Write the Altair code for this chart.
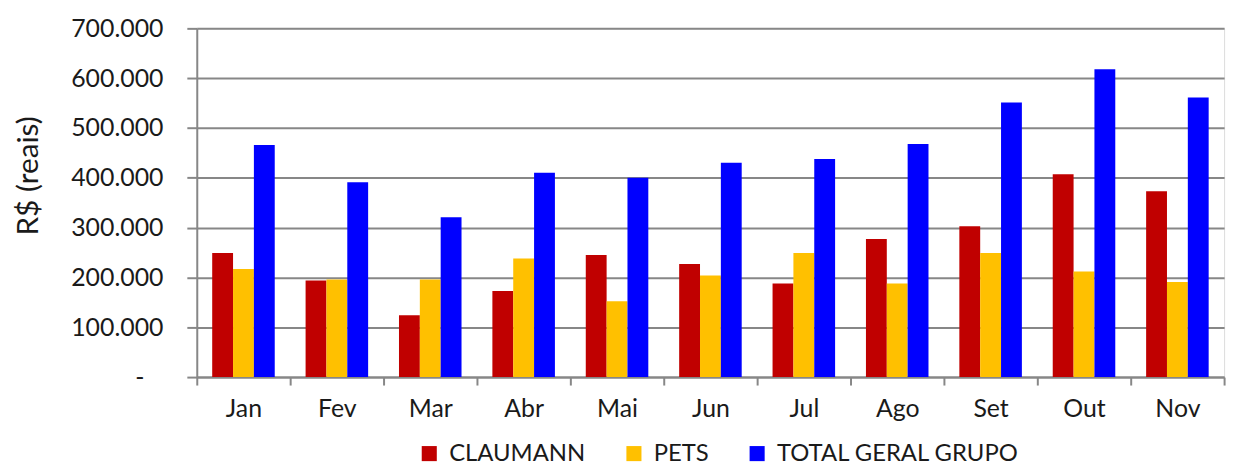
import altair as alt
import pandas as pd

months = ["Jan", "Fev", "Mar", "Abr", "Mai", "Jun", "Jul", "Ago", "Set", "Out", "Nov"]
series = ["CLAUMANN", "PETS", "TOTAL GERAL GRUPO"]
claumann = [249, 194, 124, 173, 245, 227, 188, 277, 303, 407, 373]
pets = [217, 196, 196, 238, 152, 204, 249, 188, 249, 212, 191]
total = [466, 391, 321, 410, 400, 430, 438, 468, 551, 618, 561]
colors = ["#C00000", "#FFC000", "#0000FF"]

rows = []
for i, m in enumerate(months):
    for s, vals in zip(series, [claumann, pets, total]):
        rows.append({"mes": m, "serie": s, "valor": vals[i] * 1000})
df = pd.DataFrame(rows)

FONT = "Lato"
TXT = "#1a1a1a"
GRID = "#878787"

chart = alt.Chart(df).mark_bar().encode(
    x=alt.X("mes:N", sort=months,
            scale=alt.Scale(paddingInner=0, paddingOuter=0),
            axis=alt.Axis(title=None, labelAngle=0, tickBand="extent", ticks=True,
                          tickSize=8, tickColor=GRID, tickWidth=2,
                          domainColor=GRID, domainWidth=2, grid=False,
                          labelFont=FONT, labelFontSize=25, labelColor=TXT,
                          labelPadding=12)),
    xOffset=alt.XOffset("serie:N", sort=series,
                        scale=alt.Scale(paddingInner=0, paddingOuter=0.74)),
    y=alt.Y("valor:Q",
            scale=alt.Scale(domain=[0, 700000], nice=False),
            axis=alt.Axis(title="R$ (reais)", values=[0, 100000, 200000, 300000, 400000, 500000, 600000, 700000],
                          labelExpr="datum.value == 0 ? '-\u00a0\u00a0\u00a0\u200b' : replace(format(datum.value, ','), ',', '.')",
                          labelFont=FONT, labelFontSize=25, labelColor=TXT, labelPadding=24,
                          tickSize=10, tickColor=GRID, tickWidth=2,
                          domainColor=GRID, domainWidth=2,
                          grid=True, gridColor=GRID, gridWidth=2,
                          titleFont=FONT, titleFontSize=30, titleFontWeight="normal",
                          titleColor=TXT, titleAngle=270, titleAlign="center",
                          titleBaseline="middle", titleX=-169, titleY=148)),
    color=alt.Color("serie:N", sort=series,
                    scale=alt.Scale(domain=series, range=colors),
                    legend=alt.Legend(title=None, orient="none", direction="horizontal",
                                      legendX=222, legendY=416,
                                      symbolType="square", symbolSize=230,
                                      symbolStrokeWidth=0, symbolOpacity=1,
                                      labelFont=FONT, labelFontSize=24, labelColor=TXT,
                                      labelLimit=0,
                                      labelOffset=8, columnPadding=36)),
).properties(
    width=1034,
    height=351,
    autosize=alt.AutoSizeParams(type="none"),
    padding={"left": 190, "top": 19, "right": 15, "bottom": 89},
).configure_view(stroke=None).configure(background="white")

chart.save("out.html", embed_options={"renderer": "svg", "actions": False})
